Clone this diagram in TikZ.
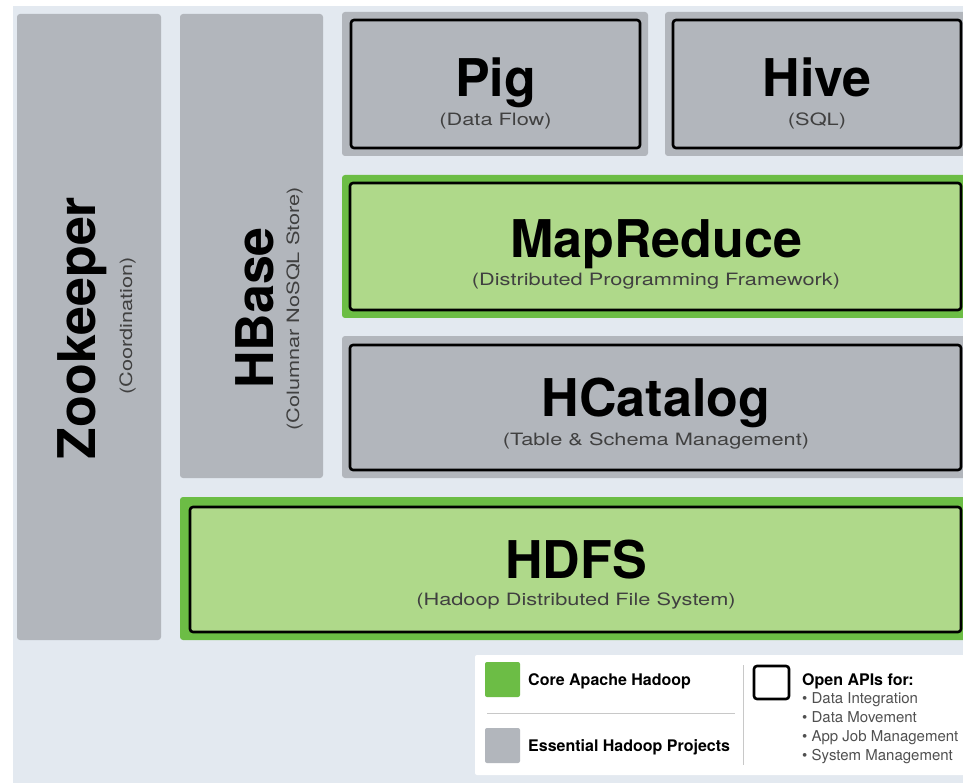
\documentclass[tikz,border=0pt]{standalone}
\usepackage{fontspec}
\setmainfont{TeX Gyre Heros}
\newfontfamily\subfont[FakeStretch=1.28]{TeX Gyre Heros}
\definecolor{bgblue}{HTML}{E3E9F0}
\definecolor{hadgray}{HTML}{B2B6BC}
\definecolor{hadgreen}{HTML}{6CBD45}
\definecolor{lightgreen}{HTML}{AFD98A}
\definecolor{subgray}{HTML}{404040}
\definecolor{bulletgray}{HTML}{505050}
\definecolor{sepgray}{HTML}{C8C8C8}

\begin{document}
\begin{tikzpicture}[x=1pt,y=-1pt]
\tikzset{
    graybg/.style={fill=hadgray, rounded corners=3pt, inner sep=0pt},
    greenbg/.style={fill=hadgreen, rounded corners=3pt, inner sep=0pt},
    apibox/.style={draw=black, line width=2.6pt, rounded corners=3pt, inner sep=0pt},
    bigname/.style={font=\fontsize{52}{52}\selectfont\bfseries, anchor=base, inner sep=0pt},
    smallname/.style={font=\subfont\fontsize{17}{17}\selectfont, text=subgray, anchor=base, inner sep=0pt},
    legendtext/.style={font=\fontsize{16}{16}\selectfont\bfseries, anchor=west, inner sep=0pt},
    bullettext/.style={font=\fontsize{15}{15}\selectfont, text=bulletgray, anchor=base west, inner sep=0pt},
    sepline/.style={draw=sepgray, line width=1pt},
}
\useasboundingbox (0,0) rectangle (963,783);
\clip (0,0) rectangle (963,783);
\fill[white] (0,0) rectangle (963,783);
\fill[bgblue] (13,6) rectangle (970,790);

% side columns
\node[graybg, minimum width=144pt, minimum height=626pt] (zoo) at (89,327) {};
\node[graybg, minimum width=143pt, minimum height=464pt] (hbase) at (251.5,246) {};
\node[bigname, rotate=90] (zooname) at (95,328) {Zookeeper};
\node[smallname, rotate=90] (zoosub) at (132,326) {(Coordination)};
\node[bigname, rotate=90] (hbasename) at (273,308) {HBase};
\node[smallname, rotate=90] (hbasesub) at (299,309) {(Columnar NoSQL Store)};

% Pig and Hive
\node[graybg, minimum width=306pt, minimum height=144pt] (pigbg) at (495,84) {};
\node[apibox, fill=hadgray, minimum width=289pt, minimum height=128pt] (pig) at (495.5,84) {};
\node[graybg, minimum width=310pt, minimum height=144pt] (hivebg) at (820,84) {};
\node[apibox, fill=hadgray, minimum width=288pt, minimum height=128pt] (hive) at (817,84) {};
\node[bigname] (pigname) at (495.5,97) {Pig};
\node[smallname] (pigsub) at (495.5,126) {(Data Flow)};
\node[bigname] (hivename) at (817,97) {Hive};
\node[smallname] (hivesub) at (817,126) {(SQL)};

% MapReduce
\node[greenbg, minimum width=633pt, minimum height=143pt] (mrbg) at (658.5,246.5) {};
\node[apibox, fill=lightgreen, minimum width=611pt, minimum height=127pt] (mr) at (655.5,246.5) {};
\node[bigname] (mrname) at (656,258) {MapReduce};
\node[smallname] (mrsub) at (656,286) {(Distributed Programming Framework)};

% HCatalog
\node[graybg, minimum width=633pt, minimum height=142pt] (hcatbg) at (658.5,407) {};
\node[apibox, fill=hadgray, minimum width=611pt, minimum height=125pt] (hcat) at (655.5,407.5) {};
\node[bigname] (hcatname) at (656,416) {HCatalog};
\node[smallname] (hcatsub) at (656,445) {(Table \& Schema Management)};

% HDFS
\node[greenbg, minimum width=795pt, minimum height=143pt] (hdfsbg) at (577.5,568.5) {};
\node[apibox, fill=lightgreen, minimum width=771pt, minimum height=125pt] (hdfs) at (575.5,569.5) {};
\node[bigname] (hdfsname) at (576,578) {HDFS};
\node[smallname] (hdfssub) at (576,605) {(Hadoop Distributed File System)};

% legend
\node[fill=white, rounded corners=2pt, inner sep=0pt, minimum width=490pt, minimum height=120pt] (legend) at (720,715) {};
\node[fill=hadgreen, rounded corners=2pt, inner sep=0pt, minimum size=35pt] (coresq) at (502.5,679.5) {};
\node[fill=hadgray, rounded corners=2pt, inner sep=0pt, minimum size=35pt] (esssq) at (502.5,745.5) {};
\node[legendtext] (coretext) at (528,681) {Core Apache Hadoop};
\node[legendtext] (esstext) at (528,747) {Essential Hadoop Projects};
\draw[sepline] (487,713) -- (735,713);
\draw[sepline] (743,665) -- (743,765);
\node[apibox, minimum width=35pt, minimum height=33pt] (apisq) at (771.5,682.5) {};
\node[legendtext, anchor=base west] (apis) at (802,685) {Open APIs for:};
\foreach \txt [count=\i] in {Data Integration, Data Movement, App Job Management, System Management}
    \node[bullettext] (api\i) at (802,{684+19*\i}) {• \txt};

\end{tikzpicture}
\end{document}
